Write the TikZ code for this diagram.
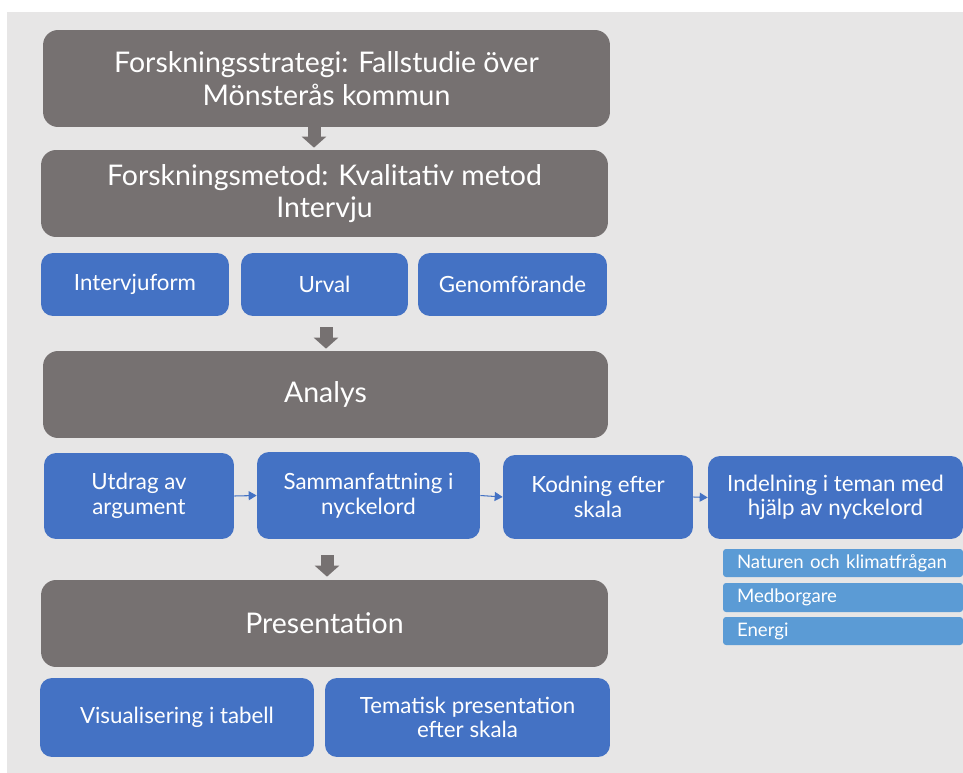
\documentclass[tikz,border=0pt]{standalone}
\usepackage{fontspec}
\setmainfont{Lato}
\usepackage{xcolor}
\usetikzlibrary{arrows.meta,positioning,calc}

\definecolor{boxgray}{HTML}{767171}
\definecolor{boxblue}{HTML}{4472C4}
\definecolor{themeblue}{HTML}{5B9BD5}
\definecolor{backgray}{HTML}{E7E6E6}

\begin{document}
\begin{tikzpicture}[x=0.02cm, y=-0.02cm,
    graybox/.style={rectangle, rounded corners=0.3cm, fill=boxgray, text=white, align=center,
        font=\fontsize{16.2}{18.6}\selectfont, inner sep=0pt},
    bluebox/.style={rectangle, rounded corners=0.24cm, fill=boxblue, text=white, align=center,
        font=\fontsize{12.7}{14}\selectfont, inner sep=0pt},
    themebox/.style={rectangle, rounded corners=0.06cm, fill=themeblue, text=white, align=left,
        font=\fontsize{10.6}{12}\selectfont, inner xsep=0.28cm, inner ysep=0pt,
        text width=4.24cm},
    bigarrow/.style={draw=boxgray, line width=0.26cm, -{Triangle[width=0.48cm, length=0.22cm]}},
    link/.style={draw=boxblue, line width=0.6pt, -{Triangle[width=0.18cm, length=0.16cm]}}]
    % Canvas
    \useasboundingbox (0,0) rectangle (963,773);
    \fill[backgray] (7,12) rectangle (963,773);

    % Strategy and method
    \node[graybox, minimum width=11.34cm, minimum height=1.94cm] (strategy) at (326.5,78.5)
        {Forskningsstrategi: Fallstudie över\\Mönsterås kommun};
    \node[graybox, minimum width=11.34cm, minimum height=1.74cm] (method) at (324.5,193.5)
        {Forskningsmetod: Kvalitativ metod\\Intervju};

    % Interview steps
    \node[bluebox, minimum width=3.76cm, minimum height=1.26cm] (form) at (135,284.5) {Intervjuform};
    \node[bluebox, minimum width=3.34cm, minimum height=1.26cm] (sample) at (324.5,284.5) {Urval};
    \node[bluebox, minimum width=3.78cm, minimum height=1.26cm] (conduct) at (512.5,284.5) {Genomförande};

    % Analysis
    \node[graybox, minimum width=11.30cm, minimum height=1.74cm] (analysis) at (325.5,394.5) {Analys};
    \node[bluebox, minimum width=3.80cm, minimum height=1.72cm] (extract) at (139,496) {Utdrag av\\argument};
    \node[bluebox, minimum width=4.46cm, minimum height=1.74cm] (summary) at (368.5,495.5) {Sammanfattning i\\nyckelord};
    \node[bluebox, minimum width=3.80cm, minimum height=1.68cm] (coding) at (598,497) {Kodning efter\\skala};
    \node[bluebox, minimum width=5.10cm, minimum height=1.66cm] (themes) at (835.5,497.5) {Indelning i teman med\\hjälp av nyckelord};

    % Themes
    \node[themebox, minimum height=0.56cm] (nature) at (843,563) {Naturen och klimatfrågan};
    \node[themebox, minimum height=0.58cm] (citizens) at (843,597.5) {Medborgare};
    \node[themebox, minimum height=0.56cm] (energy) at (843,631) {Energi};

    % Presentation
    \node[graybox, minimum width=11.34cm, minimum height=1.74cm] (presentation) at (324.5,623.5) {Presentation};
    \node[bluebox, minimum width=5.48cm, minimum height=1.58cm] (table) at (177,717.5) {Visualisering i tabell};
    \node[bluebox, minimum width=5.70cm, minimum height=1.58cm] (thematic) at (467.5,717.5) {Tematisk presentation\\efter skala};

    % Block arrows
    \draw[bigarrow, shorten >=0.04cm] (strategy.south -| 314,0) -- (method.north -| 314,0);
    \draw[bigarrow, shorten <=0.22cm, shorten >=0.04cm] (sample.south -| 326,0) -- (analysis.north -| 326,0);
    \draw[bigarrow, shorten <=0.32cm, shorten >=0.06cm] (extract.south -| 327,0) -- (presentation.north -| 327,0);

    % Analysis steps
    \draw[link] (extract.east) -- (summary.west);
    \draw[link] (summary.east) -- (coding.west);
    \draw[link] (coding.east) -- (themes.west);
\end{tikzpicture}
\end{document}
